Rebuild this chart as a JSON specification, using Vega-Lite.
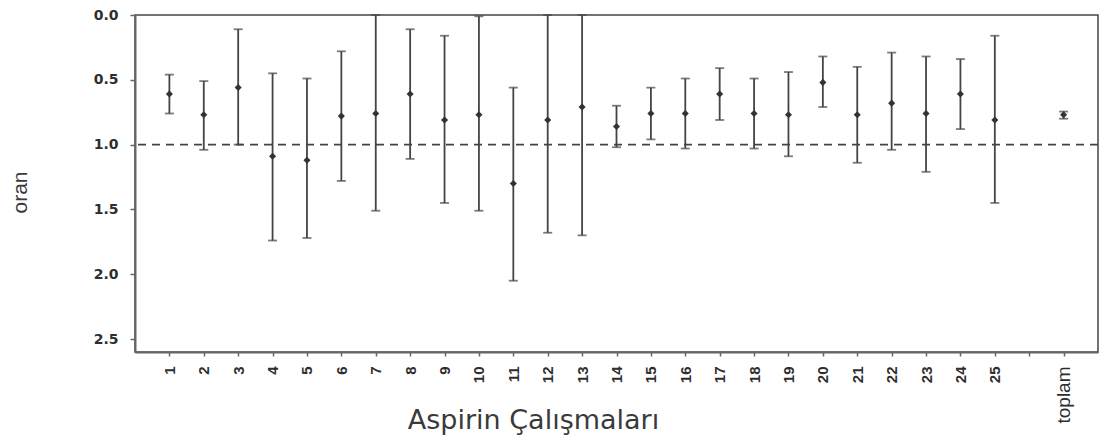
{
  "$schema": "https://vega.github.io/schema/vega-lite/v6.json",
  "width": 963,
  "height": 337,
  "autosize": "none",
  "padding": {"left": 135, "top": 15, "right": 2, "bottom": 89},
  "background": "#ffffff",
  "config": {
    "view": {"stroke": "#444444", "strokeWidth": 1.5},
    "axis": {"grid": false}
  },
  "datasets": {
    "studies": [
      {"study": "1", "est": 0.61, "lo": 0.46, "hi": 0.76},
      {"study": "2", "est": 0.77, "lo": 0.51, "hi": 1.04},
      {"study": "3", "est": 0.56, "lo": 0.11, "hi": 1.0},
      {"study": "4", "est": 1.09, "lo": 0.45, "hi": 1.74},
      {"study": "5", "est": 1.12, "lo": 0.49, "hi": 1.72},
      {"study": "6", "est": 0.78, "lo": 0.28, "hi": 1.28},
      {"study": "7", "est": 0.76, "lo": 0.0, "hi": 1.51},
      {"study": "8", "est": 0.61, "lo": 0.11, "hi": 1.11},
      {"study": "9", "est": 0.81, "lo": 0.16, "hi": 1.45},
      {"study": "10", "est": 0.77, "lo": 0.01, "hi": 1.51},
      {"study": "11", "est": 1.3, "lo": 0.56, "hi": 2.05},
      {"study": "12", "est": 0.81, "lo": 0.0, "hi": 1.68},
      {"study": "13", "est": 0.71, "lo": 0.0, "hi": 1.7},
      {"study": "14", "est": 0.86, "lo": 0.7, "hi": 1.02},
      {"study": "15", "est": 0.76, "lo": 0.56, "hi": 0.96},
      {"study": "16", "est": 0.76, "lo": 0.49, "hi": 1.03},
      {"study": "17", "est": 0.61, "lo": 0.41, "hi": 0.81},
      {"study": "18", "est": 0.76, "lo": 0.49, "hi": 1.03},
      {"study": "19", "est": 0.77, "lo": 0.44, "hi": 1.09},
      {"study": "20", "est": 0.52, "lo": 0.32, "hi": 0.71},
      {"study": "21", "est": 0.77, "lo": 0.4, "hi": 1.14},
      {"study": "22", "est": 0.68, "lo": 0.29, "hi": 1.04},
      {"study": "23", "est": 0.76, "lo": 0.32, "hi": 1.21},
      {"study": "24", "est": 0.61, "lo": 0.34, "hi": 0.88},
      {"study": "25", "est": 0.81, "lo": 0.16, "hi": 1.45},
      {"study": "toplam", "est": 0.77, "lo": 0.745, "hi": 0.8}
    ],
    "ref": [{"oran": 1.0}]
  },
  "layer": [
    {
      "data": {"name": "ref"},
      "mark": {"type": "rule", "strokeDash": [8, 6], "strokeWidth": 1.8, "color": "#444444"},
      "encoding": {
        "y": {"field": "oran", "type": "quantitative", "scale": {"domain": [0, 2.5], "reverse": true}}
      }
    },
    {
      "data": {"name": "studies"},
      "mark": {"type": "rule", "strokeWidth": 1.8, "color": "#444444"},
      "encoding": {
        "x": {
          "field": "study", "type": "nominal",
          "scale": {"type": "point", "padding": 1, "domain": ["1","2","3","4","5","6","7","8","9","10","11","12","13","14","15","16","17","18","19","20","21","22","23","24","25"," ","toplam"]},
          "axis": {
            "title": "Aspirin Çalışmaları",
            "labelAngle": -90,
            "labelAlign": "right",
            "labelBaseline": "middle",
            "labelFont": "Liberation Sans",
            "labelFontSize": {"condition": {"test": "datum.value == 'toplam'", "value": 19}, "value": 15},
            "labelFontWeight": {"condition": {"test": "datum.value == 'toplam'", "value": "normal"}, "value": "bold"},
            "labelColor": "#2e2e2e",
            "labelPadding": 10,
            "domainColor": "#666666",
            "domainWidth": 2,
            "tickColor": "#666666",
            "tickSize": 4,
            "tickWidth": 1.5,
            "titleFont": "DejaVu Sans",
            "titleFontSize": 27,
            "titleFontWeight": "normal",
            "titleColor": "#3a3a3a",
            "titleX": 398,
            "titleY": 76,
            "titleAlign": "center",
            "titleBaseline": "alphabetic"
          }
        },
        "y": {
          "field": "lo", "type": "quantitative",
          "scale": {"domain": [0, 2.5], "reverse": true},
          "axis": {
            "title": "oran",
            "values": [0, 0.5, 1, 1.5, 2, 2.5],
            "format": ".1f",
            "labelFont": "DejaVu Sans",
            "labelFontSize": 14,
            "labelFontWeight": "bold",
            "labelColor": "#2e2e2e",
            "labelPadding": 12,
            "domainColor": "#666666",
            "domainWidth": 2,
            "tickColor": "#666666",
            "tickSize": 5,
            "tickWidth": 1.5,
            "titleFont": "Liberation Sans",
            "titleFontSize": 21,
            "titleFontWeight": "normal",
            "titleColor": "#3a3a3a",
            "titleAngle": -90,
            "titleX": -115,
            "titleY": 177,
            "titleAlign": "center",
            "titleBaseline": "middle"
          }
        },
        "y2": {"field": "hi"}
      }
    },
    {
      "data": {"name": "studies"},
      "mark": {"type": "tick", "orient": "horizontal", "size": 9, "thickness": 1.8, "color": "#444444"},
      "encoding": {
        "x": {"field": "study", "type": "nominal"},
        "y": {"field": "lo", "type": "quantitative"}
      }
    },
    {
      "data": {"name": "studies"},
      "mark": {"type": "tick", "orient": "horizontal", "size": 9, "thickness": 1.8, "color": "#444444"},
      "encoding": {
        "x": {"field": "study", "type": "nominal"},
        "y": {"field": "hi", "type": "quantitative"}
      }
    },
    {
      "data": {"name": "studies"},
      "mark": {"type": "point", "shape": "diamond", "filled": true, "size": 50, "color": "#333333", "opacity": 1},
      "encoding": {
        "x": {"field": "study", "type": "nominal"},
        "y": {"field": "est", "type": "quantitative"}
      }
    }
  ]
}
